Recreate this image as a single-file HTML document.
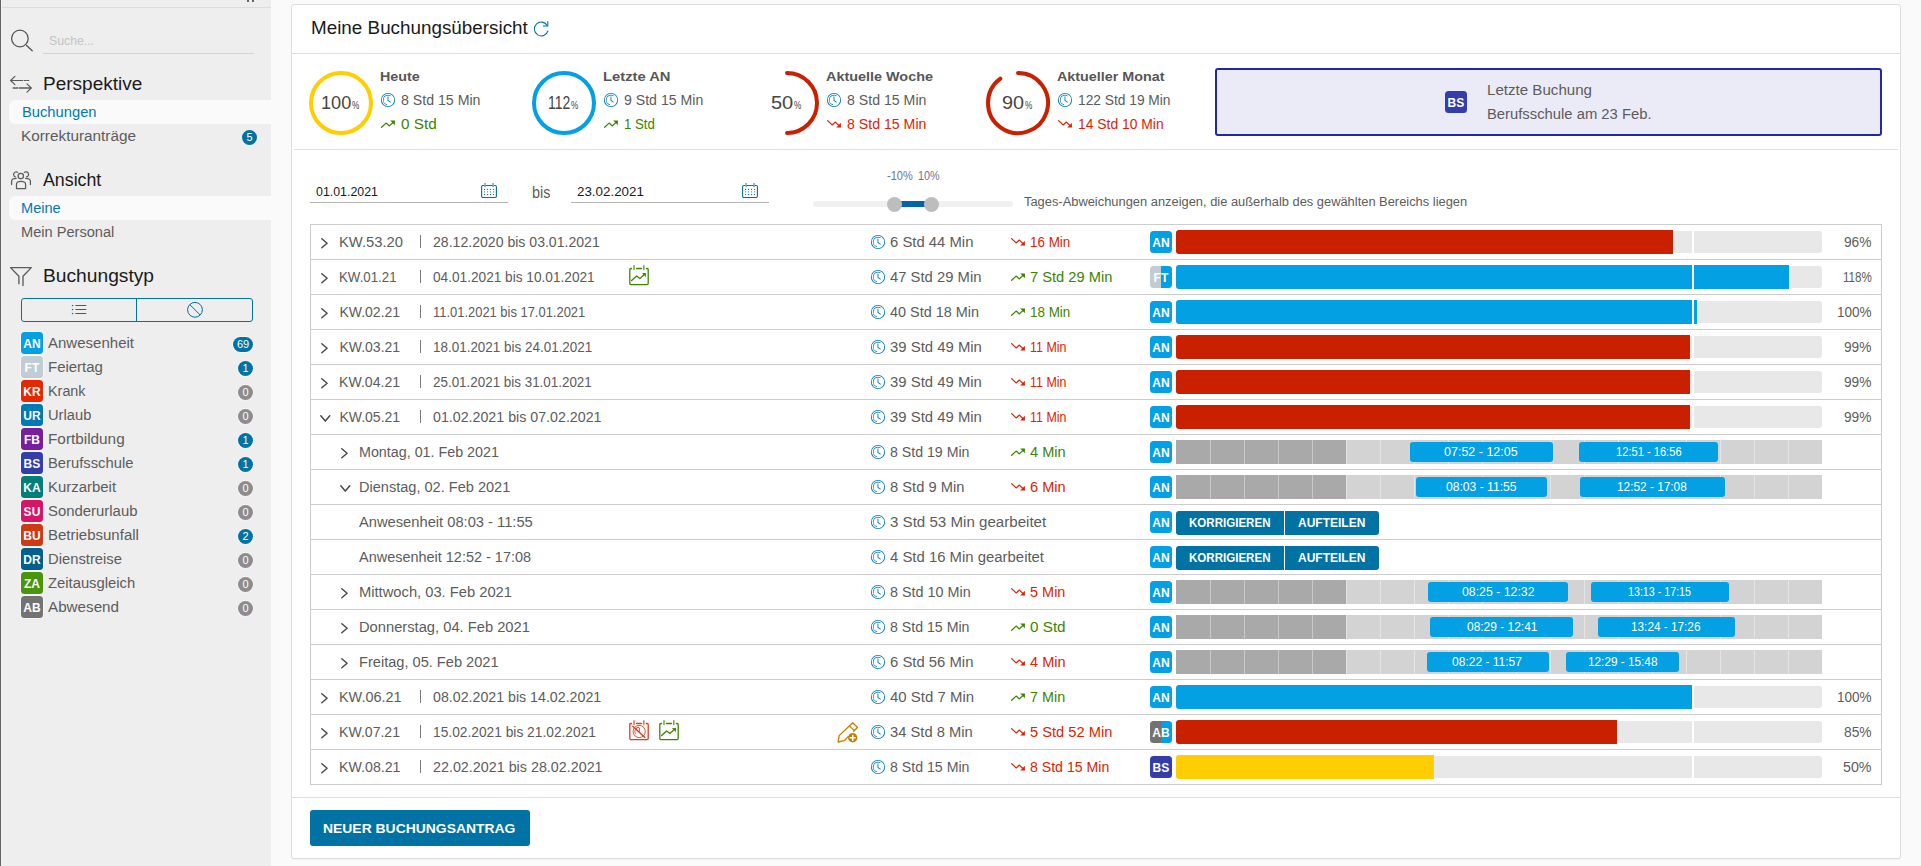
<!DOCTYPE html>
<html lang="de"><head><meta charset="utf-8"><title>Meine Buchungsübersicht</title>
<style>
html,body{margin:0;padding:0;}
body{width:1921px;height:866px;overflow:hidden;background:#fafafa;position:relative;
 font-family:"Liberation Sans",sans-serif;-webkit-font-smoothing:antialiased;}
.b{position:absolute;box-sizing:border-box;display:block;}
.t{position:absolute;white-space:pre;display:block;transform-origin:0 0;}
.badge{position:absolute;box-sizing:border-box;border-radius:3px;color:#fff;font-weight:bold;font-size:12px;
 line-height:24px;text-align:center;width:22px;height:22px;letter-spacing:0.1px;border-radius:3.5px;}
.cnt{position:absolute;box-sizing:border-box;border-radius:8px;color:#fff;font-size:11px;
 line-height:15px;height:15px;text-align:center;}
svg{overflow:visible}
</style></head><body>

<div class="b " style="left:0px;top:0px;width:271px;height:866px;background:#eeeeee;"></div>
<div class="b " style="left:0px;top:0px;width:1px;height:866px;background:#626262;"></div>
<div class="b " style="left:1px;top:0px;width:1px;height:866px;background:#f5f5f5;"></div>
<div class="b " style="left:2px;top:7px;width:269px;height:1px;background:#dcdcdc;"></div>
<div class="b " style="left:247px;top:0px;width:2px;height:2px;background:#666;"></div>
<div class="b " style="left:252px;top:0px;width:2px;height:2px;background:#666;"></div>
<svg class="b" style="left:8px;top:27px;" width="26" height="26" viewBox="0 0 26 26"><circle cx="11.9" cy="11.5" r="8.3" fill="none" stroke="#565656" stroke-width="1.3"/><path d="M18.6 18.4 L24.2 23.7" stroke="#565656" stroke-width="1.4" stroke-linecap="round" fill="none"/></svg>
<div class="b " style="left:43px;top:53px;width:211px;height:1px;background:#d4d4d4;"></div>
<span class="t " style="left:49.30px;top:31px;font-size:13px;line-height:19px;color:#c4c4c4;transform:scaleX(0.9432);">Suche...</span>
<svg class="b" style="left:8px;top:70px;" width="28" height="28" viewBox="0 0 28 28"><g fill="none" stroke="#5c5c5c" stroke-width="1.2" stroke-linecap="round" stroke-linejoin="round"><path d="M2.6 10.5 H14.7 M16.3 10.5 H17.9 M19 10.5 H20.8"/><path d="M6.9 6.4 L2.6 10.5 L6.9 14.6"/><path d="M11.3 18 H23.0 M5.2 18 H7 M8 18 H9.7" stroke-width="1.45"/><path d="M19 13.9 L23.2 18 L19 22.1"/></g></svg>
<span class="t " style="left:43.00px;top:72px;font-size:18px;line-height:24px;color:#1a1a1a;transform:scaleX(1.0558);">Perspektive</span>
<div class="b " style="left:9px;top:100px;width:262px;height:24px;background:#fafafa;border-radius:6px 0 0 6px;"></div>
<span class="t " style="left:22.00px;top:102px;font-size:14px;line-height:20px;color:#0079b8;transform:scaleX(1.0517);">Buchungen</span>
<span class="t " style="left:21.30px;top:126px;font-size:14px;line-height:20px;color:#5c5c5c;transform:scaleX(1.0945);">Korrekturanträge</span>
<div class="cnt" style="left:242px;top:130px;width:15px;background:#0072a3;">5</div>
<svg class="b" style="left:8px;top:166px;" width="28" height="28" viewBox="0 0 28 28"><g fill="none" stroke="#5c5c5c" stroke-width="1.25" stroke-linecap="round" stroke-linejoin="round"><circle cx="12.8" cy="10.1" r="2.7"/><path d="M8.5 22.6 V18.4 Q8.5 15.4 12.8 15.4 Q17.6 15.4 17.6 18.4 V22.6 Z"/><path d="M9.6 6.3 A2.6 2.6 0 1 0 7.2 10.9"/><path d="M8.2 12.3 Q3.6 12.3 3.6 15.3 V18.6"/><path d="M16.4 6.3 A2.6 2.6 0 1 1 18.6 10.9"/><path d="M17.6 12.3 Q22.4 12.3 22.4 15.3 V18.6"/></g></svg>
<span class="t " style="left:43.00px;top:168px;font-size:18px;line-height:24px;color:#1a1a1a;transform:scaleX(0.9875);">Ansicht</span>
<div class="b " style="left:9px;top:196px;width:262px;height:24px;background:#fafafa;border-radius:6px 0 0 6px;"></div>
<span class="t " style="left:21.30px;top:198px;font-size:14px;line-height:20px;color:#0079b8;transform:scaleX(1.0406);">Meine</span>
<span class="t " style="left:21.30px;top:222px;font-size:14px;line-height:20px;color:#5c5c5c;transform:scaleX(1.0429);">Mein Personal</span>
<svg class="b" style="left:8px;top:262px;" width="28" height="28" viewBox="0 0 28 28"><g fill="none" stroke="#5c5c5c" stroke-width="1.35" stroke-linecap="round" stroke-linejoin="round"><path d="M10.9 21.8 V14.3 L2.6 5.6 H23.3 L15 14.3 V23.6"/></g></svg>
<span class="t " style="left:43.00px;top:264px;font-size:18px;line-height:24px;color:#1a1a1a;transform:scaleX(1.0669);">Buchungstyp</span>
<div class="b " style="left:21px;top:298px;width:232px;height:24px;border:1px solid #0072a3;border-radius:3px;"></div>
<div class="b " style="left:136px;top:298px;width:1px;height:24px;background:#0072a3;"></div>
<svg class="b" style="left:70px;top:302px;" width="20" height="16" viewBox="0 0 20 16"><g stroke="#0072a3" stroke-width="1" fill="none"><path d="M5.4 3.5 H16.3 M5.4 7.5 H16.3 M5.4 11.5 H16.3"/></g><g fill="#0072a3"><rect x="1.9" y="2.9" width="1.3" height="1.3"/><rect x="1.9" y="6.9" width="1.3" height="1.3"/><rect x="1.9" y="10.9" width="1.3" height="1.3"/></g></svg>
<svg class="b" style="left:186px;top:301px;" width="18" height="18" viewBox="0 0 18 18"><g stroke="#0072a3" stroke-width="1" fill="none"><circle cx="9" cy="8.8" r="7.4"/><path d="M3.8 3.6 L14.2 14"/></g></svg>
<div class="badge" style="left:21px;top:332px;background:#03a0e3;box-shadow:0 0 0 1px rgba(255,250,246,0.65);">AN</div>
<span class="t " style="left:47.80px;top:333px;font-size:14px;line-height:20px;color:#5c5c5c;transform:scaleX(1.0730);">Anwesenheit</span>
<div class="cnt" style="left:233px;top:337px;width:20px;background:#0072a3;box-shadow:0 0 0 1px rgba(255,250,246,0.5);">69</div>
<div class="badge" style="left:21px;top:356px;background:#c1cdd4;box-shadow:0 0 0 1px rgba(255,250,246,0.65);">FT</div>
<span class="t " style="left:47.80px;top:357px;font-size:14px;line-height:20px;color:#5c5c5c;transform:scaleX(1.0685);">Feiertag</span>
<div class="cnt" style="left:238px;top:361px;width:15px;background:#0072a3;box-shadow:0 0 0 1px rgba(255,250,246,0.5);">1</div>
<div class="badge" style="left:21px;top:380px;background:#e62700;box-shadow:0 0 0 1px rgba(255,250,246,0.65);">KR</div>
<span class="t " style="left:47.80px;top:381px;font-size:14px;line-height:20px;color:#5c5c5c;transform:scaleX(1.0270);">Krank</span>
<div class="cnt" style="left:238px;top:385px;width:15px;background:#8c8c8c;box-shadow:0 0 0 1px rgba(255,250,246,0.5);">0</div>
<div class="badge" style="left:21px;top:404px;background:#0079b8;box-shadow:0 0 0 1px rgba(255,250,246,0.65);">UR</div>
<span class="t " style="left:47.80px;top:405px;font-size:14px;line-height:20px;color:#5c5c5c;transform:scaleX(1.0502);">Urlaub</span>
<div class="cnt" style="left:238px;top:409px;width:15px;background:#8c8c8c;box-shadow:0 0 0 1px rgba(255,250,246,0.5);">0</div>
<div class="badge" style="left:21px;top:428px;background:#781da0;box-shadow:0 0 0 1px rgba(255,250,246,0.65);">FB</div>
<span class="t " style="left:47.80px;top:429px;font-size:14px;line-height:20px;color:#5c5c5c;transform:scaleX(1.0946);">Fortbildung</span>
<div class="cnt" style="left:238px;top:433px;width:15px;background:#0072a3;box-shadow:0 0 0 1px rgba(255,250,246,0.5);">1</div>
<div class="badge" style="left:21px;top:452px;background:#343dac;box-shadow:0 0 0 1px rgba(255,250,246,0.65);">BS</div>
<span class="t " style="left:47.80px;top:453px;font-size:14px;line-height:20px;color:#5c5c5c;transform:scaleX(1.0554);">Berufsschule</span>
<div class="cnt" style="left:238px;top:457px;width:15px;background:#0072a3;box-shadow:0 0 0 1px rgba(255,250,246,0.5);">1</div>
<div class="badge" style="left:21px;top:476px;background:#007e7a;box-shadow:0 0 0 1px rgba(255,250,246,0.65);">KA</div>
<span class="t " style="left:47.80px;top:477px;font-size:14px;line-height:20px;color:#5c5c5c;transform:scaleX(1.0667);">Kurzarbeit</span>
<div class="cnt" style="left:238px;top:481px;width:15px;background:#8c8c8c;box-shadow:0 0 0 1px rgba(255,250,246,0.5);">0</div>
<div class="badge" style="left:21px;top:500px;background:#d91468;box-shadow:0 0 0 1px rgba(255,250,246,0.65);">SU</div>
<span class="t " style="left:47.80px;top:501px;font-size:14px;line-height:20px;color:#5c5c5c;transform:scaleX(1.0646);">Sonderurlaub</span>
<div class="cnt" style="left:238px;top:505px;width:15px;background:#8c8c8c;box-shadow:0 0 0 1px rgba(255,250,246,0.5);">0</div>
<div class="badge" style="left:21px;top:524px;background:#cf3a14;box-shadow:0 0 0 1px rgba(255,250,246,0.65);">BU</div>
<span class="t " style="left:47.80px;top:525px;font-size:14px;line-height:20px;color:#5c5c5c;transform:scaleX(1.0714);">Betriebsunfall</span>
<div class="cnt" style="left:238px;top:529px;width:15px;background:#0072a3;box-shadow:0 0 0 1px rgba(255,250,246,0.5);">2</div>
<div class="badge" style="left:21px;top:548px;background:#00608f;box-shadow:0 0 0 1px rgba(255,250,246,0.65);">DR</div>
<span class="t " style="left:47.80px;top:549px;font-size:14px;line-height:20px;color:#5c5c5c;transform:scaleX(1.0557);">Dienstreise</span>
<div class="cnt" style="left:238px;top:553px;width:15px;background:#8c8c8c;box-shadow:0 0 0 1px rgba(255,250,246,0.5);">0</div>
<div class="badge" style="left:21px;top:572px;background:#48960c;box-shadow:0 0 0 1px rgba(255,250,246,0.65);">ZA</div>
<span class="t " style="left:47.80px;top:573px;font-size:14px;line-height:20px;color:#5c5c5c;transform:scaleX(1.0563);">Zeitausgleich</span>
<div class="cnt" style="left:238px;top:577px;width:15px;background:#8c8c8c;box-shadow:0 0 0 1px rgba(255,250,246,0.5);">0</div>
<div class="badge" style="left:21px;top:596px;background:#737373;box-shadow:0 0 0 1px rgba(255,250,246,0.65);">AB</div>
<span class="t " style="left:47.80px;top:597px;font-size:14px;line-height:20px;color:#5c5c5c;transform:scaleX(1.0860);">Abwesend</span>
<div class="cnt" style="left:238px;top:601px;width:15px;background:#8c8c8c;box-shadow:0 0 0 1px rgba(255,250,246,0.5);">0</div>
<div class="b " style="left:291px;top:4px;width:1610px;height:855px;background:#fff;border:1px solid #dedede;border-radius:3px;box-shadow:0 1px 0 0 #f3f3f3;"></div>
<div class="b " style="left:292px;top:53px;width:1608px;height:1px;background:#dedede;"></div>
<div class="b " style="left:294px;top:149px;width:1604px;height:1px;background:#dedede;"></div>
<div class="b " style="left:292px;top:797px;width:1608px;height:1px;background:#dedede;"></div>
<span class="t " style="left:311.20px;top:16px;font-size:18px;line-height:24px;color:#1a1a1a;transform:scaleX(1.0469);">Meine Buchungsübersicht</span>
<svg class="b" style="left:532px;top:19px;" width="20" height="20" viewBox="0 0 20 20"><g fill="none" stroke="#0072a3" stroke-width="1.05" stroke-linecap="round" stroke-linejoin="round"><path d="M15.2 6.4 A6.9 6.9 0 1 0 15.9 12.0"/><path d="M15.8 2.5 V7.0 H11.3"/></g></svg>
<svg class="b" style="left:305px;top:67px;" width="72" height="72" viewBox="0 0 72 72"><circle cx="36" cy="36" r="30" fill="none" stroke="#fece02" stroke-width="4"/></svg>
<span class="t " style="left:321.25px;top:91px;font-size:18px;line-height:24px;color:#454545;transform:scaleX(1.0080);">100</span>
<span class="t " style="left:352.45px;top:98px;font-size:10px;line-height:15px;color:#454545;transform:scaleX(0.8202);">%</span>
<span class="t " style="left:380.30px;top:67px;font-size:13px;line-height:19px;color:#565656;font-weight:bold;transform:scaleX(1.0957);">Heute</span>
<svg class="b" style="left:379.80px;top:91.80px" width="16" height="16" viewBox="0 0 36 36" fill="#0079b8"><path d="M18,2A16,16,0,1,0,34,18,16,16,0,0,0,18,2Zm0,30A14,14,0,1,1,32,18,14,14,0,0,1,18,32Z"/><path d="M18.92,18.4V10.75a1,1,0,0,0-2,0v8.72l5.9,4a1,1,0,1,0,1.11-1.66Z"/><path d="M8,17.94A9.94,9.94,0,0,1,23.41,9.59l.85-1.36a11.55,11.55,0,1,0-8.53,21L16,27.7A10,10,0,0,1,8,17.94Z"/></svg>
<span class="t " style="left:400.50px;top:90px;font-size:14px;line-height:20px;color:#5c5c5c;transform:scaleX(1.0113);">8 Std 15 Min</span>
<svg class="b" style="left:381.1px;top:116.6px;" width="15" height="14" viewBox="0 0 15 14"><path d="M0.6 10.3 L5.1 6.1 L8.4 8.9 L13.0 4.5" fill="none" stroke="#3c8500" stroke-width="1.25" stroke-linecap="round" stroke-linejoin="round"/><path d="M9.2 3.4 H13.9 V8.2 Z" fill="#3c8500"/></svg>
<span class="t " style="left:400.50px;top:114px;font-size:14px;line-height:20px;color:#3c8500;transform:scaleX(1.0951);">0 Std</span>
<svg class="b" style="left:528px;top:67px;" width="72" height="72" viewBox="0 0 72 72"><circle cx="36" cy="36" r="30" fill="none" stroke="#03a0e3" stroke-width="4"/></svg>
<span class="t " style="left:548.25px;top:91px;font-size:18px;line-height:24px;color:#454545;transform:scaleX(0.7767);">112</span>
<span class="t " style="left:571.45px;top:98px;font-size:10px;line-height:15px;color:#454545;transform:scaleX(0.8202);">%</span>
<span class="t " style="left:603.30px;top:67px;font-size:13px;line-height:19px;color:#565656;font-weight:bold;transform:scaleX(1.1349);">Letzte AN</span>
<svg class="b" style="left:602.80px;top:91.80px" width="16" height="16" viewBox="0 0 36 36" fill="#0079b8"><path d="M18,2A16,16,0,1,0,34,18,16,16,0,0,0,18,2Zm0,30A14,14,0,1,1,32,18,14,14,0,0,1,18,32Z"/><path d="M18.92,18.4V10.75a1,1,0,0,0-2,0v8.72l5.9,4a1,1,0,1,0,1.11-1.66Z"/><path d="M8,17.94A9.94,9.94,0,0,1,23.41,9.59l.85-1.36a11.55,11.55,0,1,0-8.53,21L16,27.7A10,10,0,0,1,8,17.94Z"/></svg>
<span class="t " style="left:623.50px;top:90px;font-size:14px;line-height:20px;color:#5c5c5c;transform:scaleX(1.0088);">9 Std 15 Min</span>
<svg class="b" style="left:604.1px;top:116.6px;" width="15" height="14" viewBox="0 0 15 14"><path d="M0.6 10.3 L5.1 6.1 L8.4 8.9 L13.0 4.5" fill="none" stroke="#3c8500" stroke-width="1.25" stroke-linecap="round" stroke-linejoin="round"/><path d="M9.2 3.4 H13.9 V8.2 Z" fill="#3c8500"/></svg>
<span class="t " style="left:623.50px;top:114px;font-size:14px;line-height:20px;color:#3c8500;transform:scaleX(0.9452);">1 Std</span>
<svg class="b" style="left:751px;top:67px;" width="72" height="72" viewBox="0 0 72 72"><path d="M36 6 A30 30 0 0 1 36.00 66.00" fill="none" stroke="#c92100" stroke-width="4" stroke-linecap="round"/></svg>
<span class="t " style="left:771.30px;top:91px;font-size:18px;line-height:24px;color:#454545;transform:scaleX(1.1111);">50</span>
<span class="t " style="left:794.40px;top:98px;font-size:10px;line-height:15px;color:#454545;transform:scaleX(0.8202);">%</span>
<span class="t " style="left:826.30px;top:67px;font-size:13px;line-height:19px;color:#565656;font-weight:bold;transform:scaleX(1.1078);">Aktuelle Woche</span>
<svg class="b" style="left:825.80px;top:91.80px" width="16" height="16" viewBox="0 0 36 36" fill="#0079b8"><path d="M18,2A16,16,0,1,0,34,18,16,16,0,0,0,18,2Zm0,30A14,14,0,1,1,32,18,14,14,0,0,1,18,32Z"/><path d="M18.92,18.4V10.75a1,1,0,0,0-2,0v8.72l5.9,4a1,1,0,1,0,1.11-1.66Z"/><path d="M8,17.94A9.94,9.94,0,0,1,23.41,9.59l.85-1.36a11.55,11.55,0,1,0-8.53,21L16,27.7A10,10,0,0,1,8,17.94Z"/></svg>
<span class="t " style="left:846.50px;top:90px;font-size:14px;line-height:20px;color:#5c5c5c;transform:scaleX(1.0100);">8 Std 15 Min</span>
<svg class="b" style="left:827.1px;top:116.6px;" width="15" height="14" viewBox="0 0 15 14"><path d="M0.6 3.6 L5.1 7.9 L8.4 5.1 L13.0 9.5" fill="none" stroke="#e12200" stroke-width="1.25" stroke-linecap="round" stroke-linejoin="round"/><path d="M9.2 10.6 H13.9 V5.8 Z" fill="#e12200"/></svg>
<span class="t " style="left:846.50px;top:114px;font-size:14px;line-height:20px;color:#e12200;transform:scaleX(1.0100);">8 Std 15 Min</span>
<svg class="b" style="left:982px;top:67px;" width="72" height="72" viewBox="0 0 72 72"><path d="M36 6 A30 30 0 1 1 18.37 11.73" fill="none" stroke="#c92100" stroke-width="4" stroke-linecap="round"/></svg>
<span class="t " style="left:1002.40px;top:91px;font-size:18px;line-height:24px;color:#454545;transform:scaleX(1.1011);">90</span>
<span class="t " style="left:1025.30px;top:98px;font-size:10px;line-height:15px;color:#454545;transform:scaleX(0.8202);">%</span>
<span class="t " style="left:1057.30px;top:67px;font-size:13px;line-height:19px;color:#565656;font-weight:bold;transform:scaleX(1.1026);">Aktueller Monat</span>
<svg class="b" style="left:1056.80px;top:91.80px" width="16" height="16" viewBox="0 0 36 36" fill="#0079b8"><path d="M18,2A16,16,0,1,0,34,18,16,16,0,0,0,18,2Zm0,30A14,14,0,1,1,32,18,14,14,0,0,1,18,32Z"/><path d="M18.92,18.4V10.75a1,1,0,0,0-2,0v8.72l5.9,4a1,1,0,1,0,1.11-1.66Z"/><path d="M8,17.94A9.94,9.94,0,0,1,23.41,9.59l.85-1.36a11.55,11.55,0,1,0-8.53,21L16,27.7A10,10,0,0,1,8,17.94Z"/></svg>
<span class="t " style="left:1077.50px;top:90px;font-size:14px;line-height:20px;color:#5c5c5c;transform:scaleX(0.9825);">122 Std 19 Min</span>
<svg class="b" style="left:1058.1px;top:116.6px;" width="15" height="14" viewBox="0 0 15 14"><path d="M0.6 3.6 L5.1 7.9 L8.4 5.1 L13.0 9.5" fill="none" stroke="#e12200" stroke-width="1.25" stroke-linecap="round" stroke-linejoin="round"/><path d="M9.2 10.6 H13.9 V5.8 Z" fill="#e12200"/></svg>
<span class="t " style="left:1077.50px;top:114px;font-size:14px;line-height:20px;color:#e12200;transform:scaleX(0.9910);">14 Std 10 Min</span>
<div class="b " style="left:1215px;top:68px;width:667px;height:68px;background:#ebebf7;border:2px solid #2229a0;border-radius:3px;"></div>
<div class="badge" style="left:1445px;top:91px;background:#343dac;">BS</div>
<span class="t " style="left:1487.00px;top:80px;font-size:14px;line-height:20px;color:#5c5c5c;transform:scaleX(1.0791);">Letzte Buchung</span>
<span class="t " style="left:1487.00px;top:104px;font-size:14px;line-height:20px;color:#5c5c5c;transform:scaleX(1.0571);">Berufsschule am 23 Feb.</span>
<div class="b " style="left:310px;top:202px;width:198px;height:1px;background:#b3b3b3;"></div>
<span class="t " style="left:316.20px;top:182px;font-size:13px;line-height:19px;color:#1a1a1a;transform:scaleX(0.9529);">01.01.2021</span>
<svg class="b" style="left:480px;top:181.5px;" width="18" height="18" viewBox="0 0 18 18"><rect x="1.6" y="3.5" width="14.8" height="12" rx="1.2" fill="none" stroke="#0072a3" stroke-width="1.1"/><rect x="4.3" y="1" width="1.6" height="4.2" fill="#6fb0cf"/><rect x="12.3" y="1" width="1.6" height="4.2" fill="#6fb0cf"/><rect x="4.0" y="6.9" width="1.1" height="1.1" fill="#0072a3"/><rect x="4.0" y="9.0" width="1.1" height="1.6" fill="#7fb6d1"/><rect x="4.0" y="12.0" width="1.1" height="1.1" fill="#0072a3"/><rect x="7.0" y="6.9" width="1.1" height="1.1" fill="#0072a3"/><rect x="7.0" y="9.0" width="1.1" height="1.6" fill="#7fb6d1"/><rect x="7.0" y="12.0" width="1.1" height="1.1" fill="#0072a3"/><rect x="10.0" y="6.9" width="1.1" height="1.1" fill="#0072a3"/><rect x="10.0" y="9.0" width="1.1" height="1.6" fill="#7fb6d1"/><rect x="10.0" y="12.0" width="1.1" height="1.1" fill="#0072a3"/><rect x="13.0" y="6.9" width="1.1" height="1.1" fill="#0072a3"/><rect x="13.0" y="9.0" width="1.1" height="1.6" fill="#7fb6d1"/><rect x="13.0" y="12.0" width="1.1" height="1.1" fill="#0072a3"/></svg>
<span class="t " style="left:532.40px;top:182px;font-size:16px;line-height:21px;color:#5c5c5c;transform:scaleX(0.8984);">bis</span>
<div class="b " style="left:571px;top:202px;width:198px;height:1px;background:#b3b3b3;"></div>
<span class="t " style="left:577.30px;top:182px;font-size:13px;line-height:19px;color:#1a1a1a;transform:scaleX(1.0282);">23.02.2021</span>
<svg class="b" style="left:741px;top:181.5px;" width="18" height="18" viewBox="0 0 18 18"><rect x="1.6" y="3.5" width="14.8" height="12" rx="1.2" fill="none" stroke="#0072a3" stroke-width="1.1"/><rect x="4.3" y="1" width="1.6" height="4.2" fill="#6fb0cf"/><rect x="12.3" y="1" width="1.6" height="4.2" fill="#6fb0cf"/><rect x="4.0" y="6.9" width="1.1" height="1.1" fill="#0072a3"/><rect x="4.0" y="9.0" width="1.1" height="1.6" fill="#7fb6d1"/><rect x="4.0" y="12.0" width="1.1" height="1.1" fill="#0072a3"/><rect x="7.0" y="6.9" width="1.1" height="1.1" fill="#0072a3"/><rect x="7.0" y="9.0" width="1.1" height="1.6" fill="#7fb6d1"/><rect x="7.0" y="12.0" width="1.1" height="1.1" fill="#0072a3"/><rect x="10.0" y="6.9" width="1.1" height="1.1" fill="#0072a3"/><rect x="10.0" y="9.0" width="1.1" height="1.6" fill="#7fb6d1"/><rect x="10.0" y="12.0" width="1.1" height="1.1" fill="#0072a3"/><rect x="13.0" y="6.9" width="1.1" height="1.1" fill="#0072a3"/><rect x="13.0" y="9.0" width="1.1" height="1.6" fill="#7fb6d1"/><rect x="13.0" y="12.0" width="1.1" height="1.1" fill="#0072a3"/></svg>
<div class="b " style="left:813px;top:201px;width:200px;height:6px;background:#f0f0f0;border-radius:3px;"></div>
<div class="b " style="left:894px;top:201px;width:38px;height:6px;background:#0065ab;"></div>
<div class="b " style="left:887px;top:197px;width:15px;height:15px;background:#bdbdbd;border-radius:50%;"></div>
<div class="b " style="left:924px;top:197px;width:15px;height:15px;background:#bdbdbd;border-radius:50%;"></div>
<span class="t " style="left:886.50px;top:167px;font-size:12px;line-height:18px;color:#6a7590;transform:scaleX(0.9172);">-10%</span>
<span class="t " style="left:917.50px;top:167px;font-size:12px;line-height:18px;color:#6a7590;transform:scaleX(0.8958);">10%</span>
<span class="t " style="left:1023.80px;top:193px;font-size:12px;line-height:18px;color:#5c5c5c;transform:scaleX(1.0732);">Tages-Abweichungen anzeigen, die außerhalb des gewählten Bereichs liegen</span>
<div class="b " style="left:310px;top:224px;width:1572px;height:561px;border:1px solid #cccccc;"></div>
<div class="b " style="left:311px;top:259px;width:1570px;height:1px;background:#cccccc;"></div>
<div class="b " style="left:311px;top:294px;width:1570px;height:1px;background:#cccccc;"></div>
<div class="b " style="left:311px;top:329px;width:1570px;height:1px;background:#cccccc;"></div>
<div class="b " style="left:311px;top:364px;width:1570px;height:1px;background:#cccccc;"></div>
<div class="b " style="left:311px;top:399px;width:1570px;height:1px;background:#cccccc;"></div>
<div class="b " style="left:311px;top:434px;width:1570px;height:1px;background:#cccccc;"></div>
<div class="b " style="left:311px;top:469px;width:1570px;height:1px;background:#cccccc;"></div>
<div class="b " style="left:311px;top:504px;width:1570px;height:1px;background:#cccccc;"></div>
<div class="b " style="left:311px;top:539px;width:1570px;height:1px;background:#cccccc;"></div>
<div class="b " style="left:311px;top:574px;width:1570px;height:1px;background:#cccccc;"></div>
<div class="b " style="left:311px;top:609px;width:1570px;height:1px;background:#cccccc;"></div>
<div class="b " style="left:311px;top:644px;width:1570px;height:1px;background:#cccccc;"></div>
<div class="b " style="left:311px;top:679px;width:1570px;height:1px;background:#cccccc;"></div>
<div class="b " style="left:311px;top:714px;width:1570px;height:1px;background:#cccccc;"></div>
<div class="b " style="left:311px;top:749px;width:1570px;height:1px;background:#cccccc;"></div>
<svg class="b" style="left:321.3px;top:237.7px;" width="8" height="11" viewBox="0 0 8 11"><path d="M0.8 0.8 L6.1 5.3 L0.8 9.8" fill="none" stroke="#4a4a4a" stroke-width="1.5" stroke-linecap="round" stroke-linejoin="round"/></svg>
<span class="t " style="left:339.40px;top:232px;font-size:14px;line-height:20px;color:#5c5c5c;transform:scaleX(1.0545);">KW.53.20</span>
<div class="b " style="left:420px;top:235px;width:1px;height:13px;background:#7a7a7a;"></div>
<span class="t " style="left:433.20px;top:232px;font-size:14px;line-height:20px;color:#5c5c5c;transform:scaleX(1.0058);">28.12.2020 bis 03.01.2021</span>
<svg class="b" style="left:870.05px;top:234.00px" width="16" height="16" viewBox="0 0 36 36" fill="#0079b8"><path d="M18,2A16,16,0,1,0,34,18,16,16,0,0,0,18,2Zm0,30A14,14,0,1,1,32,18,14,14,0,0,1,18,32Z"/><path d="M18.92,18.4V10.75a1,1,0,0,0-2,0v8.72l5.9,4a1,1,0,1,0,1.11-1.66Z"/><path d="M8,17.94A9.94,9.94,0,0,1,23.41,9.59l.85-1.36a11.55,11.55,0,1,0-8.53,21L16,27.7A10,10,0,0,1,8,17.94Z"/></svg>
<span class="t " style="left:890.00px;top:232px;font-size:14px;line-height:20px;color:#5c5c5c;transform:scaleX(1.0609);">6 Std 44 Min</span>
<svg class="b" style="left:1010.6px;top:235px;" width="15" height="14" viewBox="0 0 15 14"><path d="M0.6 3.6 L5.1 7.9 L8.4 5.1 L13.0 9.5" fill="none" stroke="#e12200" stroke-width="1.25" stroke-linecap="round" stroke-linejoin="round"/><path d="M9.2 10.6 H13.9 V5.8 Z" fill="#e12200"/></svg>
<span class="t " style="left:1029.90px;top:232px;font-size:14px;line-height:20px;color:#e12200;transform:scaleX(0.9595);">16 Min</span>
<div class="badge" style="left:1150px;top:231px;background:#03a0e3;">AN</div>
<div class="b " style="left:1176px;top:231px;width:646px;height:22px;background:#e8e8e8;border-radius:3px;"></div>
<div class="b " style="left:1176px;top:230px;width:497.1px;height:24px;background:#c92100;border-radius:3px 0 0 3px;"></div>
<div class="b " style="left:1692px;top:229px;width:2px;height:26px;background:#ffffff;"></div>
<span class="t " style="left:1844.00px;top:232px;font-size:14px;line-height:20px;color:#5c5c5c;transform:scaleX(0.9786);">96%</span>
<svg class="b" style="left:321.3px;top:272.7px;" width="8" height="11" viewBox="0 0 8 11"><path d="M0.8 0.8 L6.1 5.3 L0.8 9.8" fill="none" stroke="#4a4a4a" stroke-width="1.5" stroke-linecap="round" stroke-linejoin="round"/></svg>
<span class="t " style="left:339.40px;top:267px;font-size:14px;line-height:20px;color:#5c5c5c;transform:scaleX(0.9474);">KW.01.21</span>
<div class="b " style="left:420px;top:270px;width:1px;height:13px;background:#7a7a7a;"></div>
<span class="t " style="left:433.20px;top:267px;font-size:14px;line-height:20px;color:#5c5c5c;transform:scaleX(0.9751);">04.01.2021 bis 10.01.2021</span>
<svg class="b" style="left:628.7px;top:264.6px;" width="21" height="21" viewBox="0 0 21 21"><g fill="none" stroke="#3c8500" stroke-width="1.3" stroke-linecap="round" stroke-linejoin="round"><path d="M2.6 3.5 H1.9 Q0.8 3.5 0.8 4.6 V18.5 Q0.8 19.6 1.9 19.6 H18.1 Q19.2 19.6 19.2 18.5 V4.6 Q19.2 3.5 18.1 3.5 H17.4"/><path d="M7.5 3.5 H12.5"/></g><g stroke="#3c8500" stroke-width="1.5" stroke-linecap="round" opacity="0.75"><path d="M5.0 0.7 V4.6 M14.8 0.7 V4.6"/></g><path d="M2.6 15.6 L7.6 11.0 L11.0 13.6 L15.6 9.0" fill="none" stroke="#3c8500" stroke-width="1.3" stroke-linecap="round" stroke-linejoin="round"/><path d="M12.8 8.0 H17.0 V12.2 Z" fill="#3c8500" opacity="0.9"/></svg>
<svg class="b" style="left:870.05px;top:269.00px" width="16" height="16" viewBox="0 0 36 36" fill="#0079b8"><path d="M18,2A16,16,0,1,0,34,18,16,16,0,0,0,18,2Zm0,30A14,14,0,1,1,32,18,14,14,0,0,1,18,32Z"/><path d="M18.92,18.4V10.75a1,1,0,0,0-2,0v8.72l5.9,4a1,1,0,1,0,1.11-1.66Z"/><path d="M8,17.94A9.94,9.94,0,0,1,23.41,9.59l.85-1.36a11.55,11.55,0,1,0-8.53,21L16,27.7A10,10,0,0,1,8,17.94Z"/></svg>
<span class="t " style="left:890.00px;top:267px;font-size:14px;line-height:20px;color:#5c5c5c;transform:scaleX(1.0581);">47 Std 29 Min</span>
<svg class="b" style="left:1010.6px;top:270px;" width="15" height="14" viewBox="0 0 15 14"><path d="M0.6 10.3 L5.1 6.1 L8.4 8.9 L13.0 4.5" fill="none" stroke="#3c8500" stroke-width="1.25" stroke-linecap="round" stroke-linejoin="round"/><path d="M9.2 3.4 H13.9 V8.2 Z" fill="#3c8500"/></svg>
<span class="t " style="left:1029.90px;top:267px;font-size:14px;line-height:20px;color:#3c8500;transform:scaleX(1.0482);">7 Std 29 Min</span>
<div class="badge" style="left:1150px;top:266px;background:linear-gradient(90deg,#c1cdd4 0,#c1cdd4 11px,#03a0e3 11px,#03a0e3 100%);">FT</div>
<div class="b " style="left:1176px;top:266px;width:646px;height:22px;background:#e8e8e8;border-radius:3px;"></div>
<div class="b " style="left:1176px;top:265px;width:612.9px;height:24px;background:#03a0e3;border-radius:3px 0 0 3px;"></div>
<div class="b " style="left:1692px;top:264px;width:2px;height:26px;background:#ffffff;"></div>
<span class="t " style="left:1842.60px;top:267px;font-size:14px;line-height:20px;color:#5c5c5c;transform:scaleX(0.8278);">118%</span>
<svg class="b" style="left:321.3px;top:307.7px;" width="8" height="11" viewBox="0 0 8 11"><path d="M0.8 0.8 L6.1 5.3 L0.8 9.8" fill="none" stroke="#4a4a4a" stroke-width="1.5" stroke-linecap="round" stroke-linejoin="round"/></svg>
<span class="t " style="left:339.40px;top:302px;font-size:14px;line-height:20px;color:#5c5c5c;">KW.02.21</span>
<div class="b " style="left:420px;top:305px;width:1px;height:13px;background:#7a7a7a;"></div>
<span class="t " style="left:433.20px;top:302px;font-size:14px;line-height:20px;color:#5c5c5c;transform:scaleX(0.9237);">11.01.2021 bis 17.01.2021</span>
<svg class="b" style="left:870.05px;top:304.00px" width="16" height="16" viewBox="0 0 36 36" fill="#0079b8"><path d="M18,2A16,16,0,1,0,34,18,16,16,0,0,0,18,2Zm0,30A14,14,0,1,1,32,18,14,14,0,0,1,18,32Z"/><path d="M18.92,18.4V10.75a1,1,0,0,0-2,0v8.72l5.9,4a1,1,0,1,0,1.11-1.66Z"/><path d="M8,17.94A9.94,9.94,0,0,1,23.41,9.59l.85-1.36a11.55,11.55,0,1,0-8.53,21L16,27.7A10,10,0,0,1,8,17.94Z"/></svg>
<span class="t " style="left:890.00px;top:302px;font-size:14px;line-height:20px;color:#5c5c5c;transform:scaleX(1.0303);">40 Std 18 Min</span>
<svg class="b" style="left:1010.6px;top:305px;" width="15" height="14" viewBox="0 0 15 14"><path d="M0.6 10.3 L5.1 6.1 L8.4 8.9 L13.0 4.5" fill="none" stroke="#3c8500" stroke-width="1.25" stroke-linecap="round" stroke-linejoin="round"/><path d="M9.2 3.4 H13.9 V8.2 Z" fill="#3c8500"/></svg>
<span class="t " style="left:1029.90px;top:302px;font-size:14px;line-height:20px;color:#3c8500;transform:scaleX(0.9595);">18 Min</span>
<div class="badge" style="left:1150px;top:301px;background:#03a0e3;">AN</div>
<div class="b " style="left:1176px;top:301px;width:646px;height:22px;background:#e8e8e8;border-radius:3px;"></div>
<div class="b " style="left:1176px;top:300px;width:520.7px;height:24px;background:#03a0e3;border-radius:3px 0 0 3px;"></div>
<div class="b " style="left:1692px;top:299px;width:2px;height:26px;background:#ffffff;"></div>
<span class="t " style="left:1836.70px;top:302px;font-size:14px;line-height:20px;color:#5c5c5c;transform:scaleX(0.9682);">100%</span>
<svg class="b" style="left:321.3px;top:342.7px;" width="8" height="11" viewBox="0 0 8 11"><path d="M0.8 0.8 L6.1 5.3 L0.8 9.8" fill="none" stroke="#4a4a4a" stroke-width="1.5" stroke-linecap="round" stroke-linejoin="round"/></svg>
<span class="t " style="left:339.40px;top:337px;font-size:14px;line-height:20px;color:#5c5c5c;">KW.03.21</span>
<div class="b " style="left:420px;top:340px;width:1px;height:13px;background:#7a7a7a;"></div>
<span class="t " style="left:433.20px;top:337px;font-size:14px;line-height:20px;color:#5c5c5c;transform:scaleX(0.9606);">18.01.2021 bis 24.01.2021</span>
<svg class="b" style="left:870.05px;top:339.00px" width="16" height="16" viewBox="0 0 36 36" fill="#0079b8"><path d="M18,2A16,16,0,1,0,34,18,16,16,0,0,0,18,2Zm0,30A14,14,0,1,1,32,18,14,14,0,0,1,18,32Z"/><path d="M18.92,18.4V10.75a1,1,0,0,0-2,0v8.72l5.9,4a1,1,0,1,0,1.11-1.66Z"/><path d="M8,17.94A9.94,9.94,0,0,1,23.41,9.59l.85-1.36a11.55,11.55,0,1,0-8.53,21L16,27.7A10,10,0,0,1,8,17.94Z"/></svg>
<span class="t " style="left:890.00px;top:337px;font-size:14px;line-height:20px;color:#5c5c5c;transform:scaleX(1.0639);">39 Std 49 Min</span>
<svg class="b" style="left:1010.6px;top:340px;" width="15" height="14" viewBox="0 0 15 14"><path d="M0.6 3.6 L5.1 7.9 L8.4 5.1 L13.0 9.5" fill="none" stroke="#e12200" stroke-width="1.25" stroke-linecap="round" stroke-linejoin="round"/><path d="M9.2 10.6 H13.9 V5.8 Z" fill="#e12200"/></svg>
<span class="t " style="left:1029.90px;top:337px;font-size:14px;line-height:20px;color:#e12200;transform:scaleX(0.8889);">11 Min</span>
<div class="badge" style="left:1150px;top:336px;background:#03a0e3;">AN</div>
<div class="b " style="left:1176px;top:336px;width:646px;height:22px;background:#e8e8e8;border-radius:3px;"></div>
<div class="b " style="left:1176px;top:335px;width:514.4px;height:24px;background:#c92100;border-radius:3px 0 0 3px;"></div>
<div class="b " style="left:1692px;top:334px;width:2px;height:26px;background:#ffffff;"></div>
<span class="t " style="left:1844.00px;top:337px;font-size:14px;line-height:20px;color:#5c5c5c;transform:scaleX(0.9786);">99%</span>
<svg class="b" style="left:321.3px;top:377.7px;" width="8" height="11" viewBox="0 0 8 11"><path d="M0.8 0.8 L6.1 5.3 L0.8 9.8" fill="none" stroke="#4a4a4a" stroke-width="1.5" stroke-linecap="round" stroke-linejoin="round"/></svg>
<span class="t " style="left:339.40px;top:372px;font-size:14px;line-height:20px;color:#5c5c5c;transform:scaleX(1.0068);">KW.04.21</span>
<div class="b " style="left:420px;top:375px;width:1px;height:13px;background:#7a7a7a;"></div>
<span class="t " style="left:433.20px;top:372px;font-size:14px;line-height:20px;color:#5c5c5c;transform:scaleX(0.9576);">25.01.2021 bis 31.01.2021</span>
<svg class="b" style="left:870.05px;top:374.00px" width="16" height="16" viewBox="0 0 36 36" fill="#0079b8"><path d="M18,2A16,16,0,1,0,34,18,16,16,0,0,0,18,2Zm0,30A14,14,0,1,1,32,18,14,14,0,0,1,18,32Z"/><path d="M18.92,18.4V10.75a1,1,0,0,0-2,0v8.72l5.9,4a1,1,0,1,0,1.11-1.66Z"/><path d="M8,17.94A9.94,9.94,0,0,1,23.41,9.59l.85-1.36a11.55,11.55,0,1,0-8.53,21L16,27.7A10,10,0,0,1,8,17.94Z"/></svg>
<span class="t " style="left:890.00px;top:372px;font-size:14px;line-height:20px;color:#5c5c5c;transform:scaleX(1.0639);">39 Std 49 Min</span>
<svg class="b" style="left:1010.6px;top:375px;" width="15" height="14" viewBox="0 0 15 14"><path d="M0.6 3.6 L5.1 7.9 L8.4 5.1 L13.0 9.5" fill="none" stroke="#e12200" stroke-width="1.25" stroke-linecap="round" stroke-linejoin="round"/><path d="M9.2 10.6 H13.9 V5.8 Z" fill="#e12200"/></svg>
<span class="t " style="left:1029.90px;top:372px;font-size:14px;line-height:20px;color:#e12200;transform:scaleX(0.8889);">11 Min</span>
<div class="badge" style="left:1150px;top:371px;background:#03a0e3;">AN</div>
<div class="b " style="left:1176px;top:371px;width:646px;height:22px;background:#e8e8e8;border-radius:3px;"></div>
<div class="b " style="left:1176px;top:370px;width:514.4px;height:24px;background:#c92100;border-radius:3px 0 0 3px;"></div>
<div class="b " style="left:1692px;top:369px;width:2px;height:26px;background:#ffffff;"></div>
<span class="t " style="left:1844.00px;top:372px;font-size:14px;line-height:20px;color:#5c5c5c;transform:scaleX(0.9786);">99%</span>
<svg class="b" style="left:319.7px;top:414.59999999999997px;" width="11" height="8" viewBox="0 0 11 8"><path d="M0.8 0.8 L5.3 6.1 L9.8 0.8" fill="none" stroke="#4a4a4a" stroke-width="1.5" stroke-linecap="round" stroke-linejoin="round"/></svg>
<span class="t " style="left:339.40px;top:407px;font-size:14px;line-height:20px;color:#5c5c5c;">KW.05.21</span>
<div class="b " style="left:420px;top:410px;width:1px;height:13px;background:#7a7a7a;"></div>
<span class="t " style="left:433.20px;top:407px;font-size:14px;line-height:20px;color:#5c5c5c;transform:scaleX(1.0161);">01.02.2021 bis 07.02.2021</span>
<svg class="b" style="left:870.05px;top:409.00px" width="16" height="16" viewBox="0 0 36 36" fill="#0079b8"><path d="M18,2A16,16,0,1,0,34,18,16,16,0,0,0,18,2Zm0,30A14,14,0,1,1,32,18,14,14,0,0,1,18,32Z"/><path d="M18.92,18.4V10.75a1,1,0,0,0-2,0v8.72l5.9,4a1,1,0,1,0,1.11-1.66Z"/><path d="M8,17.94A9.94,9.94,0,0,1,23.41,9.59l.85-1.36a11.55,11.55,0,1,0-8.53,21L16,27.7A10,10,0,0,1,8,17.94Z"/></svg>
<span class="t " style="left:890.00px;top:407px;font-size:14px;line-height:20px;color:#5c5c5c;transform:scaleX(1.0639);">39 Std 49 Min</span>
<svg class="b" style="left:1010.6px;top:410px;" width="15" height="14" viewBox="0 0 15 14"><path d="M0.6 3.6 L5.1 7.9 L8.4 5.1 L13.0 9.5" fill="none" stroke="#e12200" stroke-width="1.25" stroke-linecap="round" stroke-linejoin="round"/><path d="M9.2 10.6 H13.9 V5.8 Z" fill="#e12200"/></svg>
<span class="t " style="left:1029.90px;top:407px;font-size:14px;line-height:20px;color:#e12200;transform:scaleX(0.8889);">11 Min</span>
<div class="badge" style="left:1150px;top:406px;background:#03a0e3;">AN</div>
<div class="b " style="left:1176px;top:406px;width:646px;height:22px;background:#e8e8e8;border-radius:3px;"></div>
<div class="b " style="left:1176px;top:405px;width:514.4px;height:24px;background:#c92100;border-radius:3px 0 0 3px;"></div>
<div class="b " style="left:1692px;top:404px;width:2px;height:26px;background:#ffffff;"></div>
<span class="t " style="left:1844.00px;top:407px;font-size:14px;line-height:20px;color:#5c5c5c;transform:scaleX(0.9786);">99%</span>
<svg class="b" style="left:341.2px;top:447.7px;" width="8" height="11" viewBox="0 0 8 11"><path d="M0.8 0.8 L6.1 5.3 L0.8 9.8" fill="none" stroke="#4a4a4a" stroke-width="1.5" stroke-linecap="round" stroke-linejoin="round"/></svg>
<span class="t " style="left:359.30px;top:442px;font-size:14px;line-height:20px;color:#5c5c5c;transform:scaleX(1.0212);">Montag, 01. Feb 2021</span>
<svg class="b" style="left:870.05px;top:444.00px" width="16" height="16" viewBox="0 0 36 36" fill="#0079b8"><path d="M18,2A16,16,0,1,0,34,18,16,16,0,0,0,18,2Zm0,30A14,14,0,1,1,32,18,14,14,0,0,1,18,32Z"/><path d="M18.92,18.4V10.75a1,1,0,0,0-2,0v8.72l5.9,4a1,1,0,1,0,1.11-1.66Z"/><path d="M8,17.94A9.94,9.94,0,0,1,23.41,9.59l.85-1.36a11.55,11.55,0,1,0-8.53,21L16,27.7A10,10,0,0,1,8,17.94Z"/></svg>
<span class="t " style="left:890.00px;top:442px;font-size:14px;line-height:20px;color:#5c5c5c;transform:scaleX(1.0113);">8 Std 19 Min</span>
<svg class="b" style="left:1010.6px;top:445px;" width="15" height="14" viewBox="0 0 15 14"><path d="M0.6 10.3 L5.1 6.1 L8.4 8.9 L13.0 4.5" fill="none" stroke="#3c8500" stroke-width="1.25" stroke-linecap="round" stroke-linejoin="round"/><path d="M9.2 3.4 H13.9 V8.2 Z" fill="#3c8500"/></svg>
<span class="t " style="left:1029.90px;top:442px;font-size:14px;line-height:20px;color:#3c8500;transform:scaleX(1.0400);">4 Min</span>
<div class="badge" style="left:1150px;top:441px;background:#03a0e3;">AN</div>
<div class="b " style="left:1176px;top:440px;width:170px;height:24px;background:#a9a9a9;"></div>
<div class="b " style="left:1346px;top:440px;width:476px;height:24px;background:#d3d3d3;"></div>
<div class="b " style="left:1210px;top:440px;width:1px;height:24px;background:rgba(255,255,255,0.38);"></div>
<div class="b " style="left:1244px;top:440px;width:1px;height:24px;background:rgba(255,255,255,0.38);"></div>
<div class="b " style="left:1278px;top:440px;width:1px;height:24px;background:rgba(255,255,255,0.38);"></div>
<div class="b " style="left:1312px;top:440px;width:1px;height:24px;background:rgba(255,255,255,0.38);"></div>
<div class="b " style="left:1346px;top:440px;width:1px;height:24px;background:rgba(255,255,255,0.38);"></div>
<div class="b " style="left:1380px;top:440px;width:1px;height:24px;background:rgba(255,255,255,0.38);"></div>
<div class="b " style="left:1414px;top:440px;width:1px;height:24px;background:rgba(255,255,255,0.38);"></div>
<div class="b " style="left:1448px;top:440px;width:1px;height:24px;background:rgba(255,255,255,0.38);"></div>
<div class="b " style="left:1482px;top:440px;width:1px;height:24px;background:rgba(255,255,255,0.38);"></div>
<div class="b " style="left:1516px;top:440px;width:1px;height:24px;background:rgba(255,255,255,0.38);"></div>
<div class="b " style="left:1550px;top:440px;width:1px;height:24px;background:rgba(255,255,255,0.38);"></div>
<div class="b " style="left:1584px;top:440px;width:1px;height:24px;background:rgba(255,255,255,0.38);"></div>
<div class="b " style="left:1618px;top:440px;width:1px;height:24px;background:rgba(255,255,255,0.38);"></div>
<div class="b " style="left:1652px;top:440px;width:1px;height:24px;background:rgba(255,255,255,0.38);"></div>
<div class="b " style="left:1686px;top:440px;width:1px;height:24px;background:rgba(255,255,255,0.38);"></div>
<div class="b " style="left:1720px;top:440px;width:1px;height:24px;background:rgba(255,255,255,0.38);"></div>
<div class="b " style="left:1754px;top:440px;width:1px;height:24px;background:rgba(255,255,255,0.38);"></div>
<div class="b " style="left:1788px;top:440px;width:1px;height:24px;background:rgba(255,255,255,0.38);"></div>
<div class="b " style="left:1409.5px;top:442px;width:143.7px;height:20px;background:#03a0e3;border-radius:3px;"></div>
<span class="t " style="left:1444.30px;top:442px;font-size:13px;line-height:19px;color:#ffffff;transform:scaleX(0.9617);">07:52 - 12:05</span>
<div class="b " style="left:1578.9px;top:442px;width:139.1px;height:20px;background:#03a0e3;border-radius:3px;"></div>
<span class="t " style="left:1615.52px;top:442px;font-size:13px;line-height:19px;color:#ffffff;transform:scaleX(0.8560);">12:51 - 16:56</span>
<svg class="b" style="left:339.59999999999997px;top:484.59999999999997px;" width="11" height="8" viewBox="0 0 11 8"><path d="M0.8 0.8 L5.3 6.1 L9.8 0.8" fill="none" stroke="#4a4a4a" stroke-width="1.5" stroke-linecap="round" stroke-linejoin="round"/></svg>
<span class="t " style="left:359.30px;top:477px;font-size:14px;line-height:20px;color:#5c5c5c;transform:scaleX(1.0396);">Dienstag, 02. Feb 2021</span>
<svg class="b" style="left:870.05px;top:479.00px" width="16" height="16" viewBox="0 0 36 36" fill="#0079b8"><path d="M18,2A16,16,0,1,0,34,18,16,16,0,0,0,18,2Zm0,30A14,14,0,1,1,32,18,14,14,0,0,1,18,32Z"/><path d="M18.92,18.4V10.75a1,1,0,0,0-2,0v8.72l5.9,4a1,1,0,1,0,1.11-1.66Z"/><path d="M8,17.94A9.94,9.94,0,0,1,23.41,9.59l.85-1.36a11.55,11.55,0,1,0-8.53,21L16,27.7A10,10,0,0,1,8,17.94Z"/></svg>
<span class="t " style="left:890.00px;top:477px;font-size:14px;line-height:20px;color:#5c5c5c;transform:scaleX(1.0503);">8 Std 9 Min</span>
<svg class="b" style="left:1010.6px;top:480px;" width="15" height="14" viewBox="0 0 15 14"><path d="M0.6 3.6 L5.1 7.9 L8.4 5.1 L13.0 9.5" fill="none" stroke="#e12200" stroke-width="1.25" stroke-linecap="round" stroke-linejoin="round"/><path d="M9.2 10.6 H13.9 V5.8 Z" fill="#e12200"/></svg>
<span class="t " style="left:1029.90px;top:477px;font-size:14px;line-height:20px;color:#e12200;transform:scaleX(1.0400);">6 Min</span>
<div class="badge" style="left:1150px;top:476px;background:#03a0e3;">AN</div>
<div class="b " style="left:1176px;top:475px;width:170px;height:24px;background:#a9a9a9;"></div>
<div class="b " style="left:1346px;top:475px;width:476px;height:24px;background:#d3d3d3;"></div>
<div class="b " style="left:1210px;top:475px;width:1px;height:24px;background:rgba(255,255,255,0.38);"></div>
<div class="b " style="left:1244px;top:475px;width:1px;height:24px;background:rgba(255,255,255,0.38);"></div>
<div class="b " style="left:1278px;top:475px;width:1px;height:24px;background:rgba(255,255,255,0.38);"></div>
<div class="b " style="left:1312px;top:475px;width:1px;height:24px;background:rgba(255,255,255,0.38);"></div>
<div class="b " style="left:1346px;top:475px;width:1px;height:24px;background:rgba(255,255,255,0.38);"></div>
<div class="b " style="left:1380px;top:475px;width:1px;height:24px;background:rgba(255,255,255,0.38);"></div>
<div class="b " style="left:1414px;top:475px;width:1px;height:24px;background:rgba(255,255,255,0.38);"></div>
<div class="b " style="left:1448px;top:475px;width:1px;height:24px;background:rgba(255,255,255,0.38);"></div>
<div class="b " style="left:1482px;top:475px;width:1px;height:24px;background:rgba(255,255,255,0.38);"></div>
<div class="b " style="left:1516px;top:475px;width:1px;height:24px;background:rgba(255,255,255,0.38);"></div>
<div class="b " style="left:1550px;top:475px;width:1px;height:24px;background:rgba(255,255,255,0.38);"></div>
<div class="b " style="left:1584px;top:475px;width:1px;height:24px;background:rgba(255,255,255,0.38);"></div>
<div class="b " style="left:1618px;top:475px;width:1px;height:24px;background:rgba(255,255,255,0.38);"></div>
<div class="b " style="left:1652px;top:475px;width:1px;height:24px;background:rgba(255,255,255,0.38);"></div>
<div class="b " style="left:1686px;top:475px;width:1px;height:24px;background:rgba(255,255,255,0.38);"></div>
<div class="b " style="left:1720px;top:475px;width:1px;height:24px;background:rgba(255,255,255,0.38);"></div>
<div class="b " style="left:1754px;top:475px;width:1px;height:24px;background:rgba(255,255,255,0.38);"></div>
<div class="b " style="left:1788px;top:475px;width:1px;height:24px;background:rgba(255,255,255,0.38);"></div>
<div class="b " style="left:1415.7px;top:477px;width:131.8px;height:20px;background:#03a0e3;border-radius:3px;"></div>
<span class="t " style="left:1446.18px;top:477px;font-size:13px;line-height:19px;color:#ffffff;transform:scaleX(0.9318);">08:03 - 11:55</span>
<div class="b " style="left:1579.5px;top:477px;width:145.4px;height:20px;background:#03a0e3;border-radius:3px;"></div>
<span class="t " style="left:1617.10px;top:477px;font-size:13px;line-height:19px;color:#ffffff;transform:scaleX(0.9108);">12:52 - 17:08</span>
<span class="t " style="left:359.30px;top:512px;font-size:14px;line-height:20px;color:#5c5c5c;transform:scaleX(1.0498);">Anwesenheit 08:03 - 11:55</span>
<svg class="b" style="left:870.05px;top:514.00px" width="16" height="16" viewBox="0 0 36 36" fill="#0079b8"><path d="M18,2A16,16,0,1,0,34,18,16,16,0,0,0,18,2Zm0,30A14,14,0,1,1,32,18,14,14,0,0,1,18,32Z"/><path d="M18.92,18.4V10.75a1,1,0,0,0-2,0v8.72l5.9,4a1,1,0,1,0,1.11-1.66Z"/><path d="M8,17.94A9.94,9.94,0,0,1,23.41,9.59l.85-1.36a11.55,11.55,0,1,0-8.53,21L16,27.7A10,10,0,0,1,8,17.94Z"/></svg>
<span class="t " style="left:890.00px;top:512px;font-size:14px;line-height:20px;color:#5c5c5c;transform:scaleX(1.0790);">3 Std 53 Min gearbeitet</span>
<div class="badge" style="left:1150px;top:511px;background:#03a0e3;">AN</div>
<div class="b " style="left:1176px;top:511px;width:108px;height:24px;background:#0072a3;border-radius:3px 0 0 3px;"></div>
<div class="b " style="left:1285px;top:511px;width:94px;height:24px;background:#0072a3;border-radius:0 3px 3px 0;"></div>
<span class="t " style="left:1189.10px;top:514px;font-size:12px;line-height:18px;color:#fff;font-weight:bold;transform:scaleX(0.9627);">KORRIGIEREN</span>
<span class="t " style="left:1298.00px;top:514px;font-size:12px;line-height:18px;color:#fff;font-weight:bold;">AUFTEILEN</span>
<span class="t " style="left:359.30px;top:547px;font-size:14px;line-height:20px;color:#5c5c5c;transform:scaleX(1.0330);">Anwesenheit 12:52 - 17:08</span>
<svg class="b" style="left:870.05px;top:549.00px" width="16" height="16" viewBox="0 0 36 36" fill="#0079b8"><path d="M18,2A16,16,0,1,0,34,18,16,16,0,0,0,18,2Zm0,30A14,14,0,1,1,32,18,14,14,0,0,1,18,32Z"/><path d="M18.92,18.4V10.75a1,1,0,0,0-2,0v8.72l5.9,4a1,1,0,1,0,1.11-1.66Z"/><path d="M8,17.94A9.94,9.94,0,0,1,23.41,9.59l.85-1.36a11.55,11.55,0,1,0-8.53,21L16,27.7A10,10,0,0,1,8,17.94Z"/></svg>
<span class="t " style="left:890.00px;top:547px;font-size:14px;line-height:20px;color:#5c5c5c;transform:scaleX(1.0638);">4 Std 16 Min gearbeitet</span>
<div class="badge" style="left:1150px;top:546px;background:#03a0e3;">AN</div>
<div class="b " style="left:1176px;top:546px;width:108px;height:24px;background:#0072a3;border-radius:3px 0 0 3px;"></div>
<div class="b " style="left:1285px;top:546px;width:94px;height:24px;background:#0072a3;border-radius:0 3px 3px 0;"></div>
<span class="t " style="left:1189.10px;top:549px;font-size:12px;line-height:18px;color:#fff;font-weight:bold;transform:scaleX(0.9627);">KORRIGIEREN</span>
<span class="t " style="left:1298.00px;top:549px;font-size:12px;line-height:18px;color:#fff;font-weight:bold;">AUFTEILEN</span>
<svg class="b" style="left:341.2px;top:587.7px;" width="8" height="11" viewBox="0 0 8 11"><path d="M0.8 0.8 L6.1 5.3 L0.8 9.8" fill="none" stroke="#4a4a4a" stroke-width="1.5" stroke-linecap="round" stroke-linejoin="round"/></svg>
<span class="t " style="left:359.30px;top:582px;font-size:14px;line-height:20px;color:#5c5c5c;transform:scaleX(1.0513);">Mittwoch, 03. Feb 2021</span>
<svg class="b" style="left:870.05px;top:584.00px" width="16" height="16" viewBox="0 0 36 36" fill="#0079b8"><path d="M18,2A16,16,0,1,0,34,18,16,16,0,0,0,18,2Zm0,30A14,14,0,1,1,32,18,14,14,0,0,1,18,32Z"/><path d="M18.92,18.4V10.75a1,1,0,0,0-2,0v8.72l5.9,4a1,1,0,1,0,1.11-1.66Z"/><path d="M8,17.94A9.94,9.94,0,0,1,23.41,9.59l.85-1.36a11.55,11.55,0,1,0-8.53,21L16,27.7A10,10,0,0,1,8,17.94Z"/></svg>
<span class="t " style="left:890.00px;top:582px;font-size:14px;line-height:20px;color:#5c5c5c;transform:scaleX(1.0266);">8 Std 10 Min</span>
<svg class="b" style="left:1010.6px;top:585px;" width="15" height="14" viewBox="0 0 15 14"><path d="M0.6 3.6 L5.1 7.9 L8.4 5.1 L13.0 9.5" fill="none" stroke="#e12200" stroke-width="1.25" stroke-linecap="round" stroke-linejoin="round"/><path d="M9.2 10.6 H13.9 V5.8 Z" fill="#e12200"/></svg>
<span class="t " style="left:1029.90px;top:582px;font-size:14px;line-height:20px;color:#e12200;transform:scaleX(1.0342);">5 Min</span>
<div class="badge" style="left:1150px;top:581px;background:#03a0e3;">AN</div>
<div class="b " style="left:1176px;top:580px;width:170px;height:24px;background:#a9a9a9;"></div>
<div class="b " style="left:1346px;top:580px;width:476px;height:24px;background:#d3d3d3;"></div>
<div class="b " style="left:1210px;top:580px;width:1px;height:24px;background:rgba(255,255,255,0.38);"></div>
<div class="b " style="left:1244px;top:580px;width:1px;height:24px;background:rgba(255,255,255,0.38);"></div>
<div class="b " style="left:1278px;top:580px;width:1px;height:24px;background:rgba(255,255,255,0.38);"></div>
<div class="b " style="left:1312px;top:580px;width:1px;height:24px;background:rgba(255,255,255,0.38);"></div>
<div class="b " style="left:1346px;top:580px;width:1px;height:24px;background:rgba(255,255,255,0.38);"></div>
<div class="b " style="left:1380px;top:580px;width:1px;height:24px;background:rgba(255,255,255,0.38);"></div>
<div class="b " style="left:1414px;top:580px;width:1px;height:24px;background:rgba(255,255,255,0.38);"></div>
<div class="b " style="left:1448px;top:580px;width:1px;height:24px;background:rgba(255,255,255,0.38);"></div>
<div class="b " style="left:1482px;top:580px;width:1px;height:24px;background:rgba(255,255,255,0.38);"></div>
<div class="b " style="left:1516px;top:580px;width:1px;height:24px;background:rgba(255,255,255,0.38);"></div>
<div class="b " style="left:1550px;top:580px;width:1px;height:24px;background:rgba(255,255,255,0.38);"></div>
<div class="b " style="left:1584px;top:580px;width:1px;height:24px;background:rgba(255,255,255,0.38);"></div>
<div class="b " style="left:1618px;top:580px;width:1px;height:24px;background:rgba(255,255,255,0.38);"></div>
<div class="b " style="left:1652px;top:580px;width:1px;height:24px;background:rgba(255,255,255,0.38);"></div>
<div class="b " style="left:1686px;top:580px;width:1px;height:24px;background:rgba(255,255,255,0.38);"></div>
<div class="b " style="left:1720px;top:580px;width:1px;height:24px;background:rgba(255,255,255,0.38);"></div>
<div class="b " style="left:1754px;top:580px;width:1px;height:24px;background:rgba(255,255,255,0.38);"></div>
<div class="b " style="left:1788px;top:580px;width:1px;height:24px;background:rgba(255,255,255,0.38);"></div>
<div class="b " style="left:1428.2px;top:582px;width:140.3px;height:20px;background:#03a0e3;border-radius:3px;"></div>
<span class="t " style="left:1461.90px;top:582px;font-size:13px;line-height:19px;color:#ffffff;transform:scaleX(0.9460);">08:25 - 12:32</span>
<div class="b " style="left:1591.4px;top:582px;width:137.4px;height:20px;background:#03a0e3;border-radius:3px;"></div>
<span class="t " style="left:1628.43px;top:582px;font-size:13px;line-height:19px;color:#ffffff;transform:scaleX(0.8221);">13:13 - 17:15</span>
<svg class="b" style="left:341.2px;top:622.7px;" width="8" height="11" viewBox="0 0 8 11"><path d="M0.8 0.8 L6.1 5.3 L0.8 9.8" fill="none" stroke="#4a4a4a" stroke-width="1.5" stroke-linecap="round" stroke-linejoin="round"/></svg>
<span class="t " style="left:359.30px;top:617px;font-size:14px;line-height:20px;color:#5c5c5c;transform:scaleX(1.0505);">Donnerstag, 04. Feb 2021</span>
<svg class="b" style="left:870.05px;top:619.00px" width="16" height="16" viewBox="0 0 36 36" fill="#0079b8"><path d="M18,2A16,16,0,1,0,34,18,16,16,0,0,0,18,2Zm0,30A14,14,0,1,1,32,18,14,14,0,0,1,18,32Z"/><path d="M18.92,18.4V10.75a1,1,0,0,0-2,0v8.72l5.9,4a1,1,0,1,0,1.11-1.66Z"/><path d="M8,17.94A9.94,9.94,0,0,1,23.41,9.59l.85-1.36a11.55,11.55,0,1,0-8.53,21L16,27.7A10,10,0,0,1,8,17.94Z"/></svg>
<span class="t " style="left:890.00px;top:617px;font-size:14px;line-height:20px;color:#5c5c5c;transform:scaleX(1.0113);">8 Std 15 Min</span>
<svg class="b" style="left:1010.6px;top:620px;" width="15" height="14" viewBox="0 0 15 14"><path d="M0.6 10.3 L5.1 6.1 L8.4 8.9 L13.0 4.5" fill="none" stroke="#3c8500" stroke-width="1.25" stroke-linecap="round" stroke-linejoin="round"/><path d="M9.2 3.4 H13.9 V8.2 Z" fill="#3c8500"/></svg>
<span class="t " style="left:1029.90px;top:617px;font-size:14px;line-height:20px;color:#3c8500;transform:scaleX(1.0890);">0 Std</span>
<div class="badge" style="left:1150px;top:616px;background:#03a0e3;">AN</div>
<div class="b " style="left:1176px;top:615px;width:170px;height:24px;background:#a9a9a9;"></div>
<div class="b " style="left:1346px;top:615px;width:476px;height:24px;background:#d3d3d3;"></div>
<div class="b " style="left:1210px;top:615px;width:1px;height:24px;background:rgba(255,255,255,0.38);"></div>
<div class="b " style="left:1244px;top:615px;width:1px;height:24px;background:rgba(255,255,255,0.38);"></div>
<div class="b " style="left:1278px;top:615px;width:1px;height:24px;background:rgba(255,255,255,0.38);"></div>
<div class="b " style="left:1312px;top:615px;width:1px;height:24px;background:rgba(255,255,255,0.38);"></div>
<div class="b " style="left:1346px;top:615px;width:1px;height:24px;background:rgba(255,255,255,0.38);"></div>
<div class="b " style="left:1380px;top:615px;width:1px;height:24px;background:rgba(255,255,255,0.38);"></div>
<div class="b " style="left:1414px;top:615px;width:1px;height:24px;background:rgba(255,255,255,0.38);"></div>
<div class="b " style="left:1448px;top:615px;width:1px;height:24px;background:rgba(255,255,255,0.38);"></div>
<div class="b " style="left:1482px;top:615px;width:1px;height:24px;background:rgba(255,255,255,0.38);"></div>
<div class="b " style="left:1516px;top:615px;width:1px;height:24px;background:rgba(255,255,255,0.38);"></div>
<div class="b " style="left:1550px;top:615px;width:1px;height:24px;background:rgba(255,255,255,0.38);"></div>
<div class="b " style="left:1584px;top:615px;width:1px;height:24px;background:rgba(255,255,255,0.38);"></div>
<div class="b " style="left:1618px;top:615px;width:1px;height:24px;background:rgba(255,255,255,0.38);"></div>
<div class="b " style="left:1652px;top:615px;width:1px;height:24px;background:rgba(255,255,255,0.38);"></div>
<div class="b " style="left:1686px;top:615px;width:1px;height:24px;background:rgba(255,255,255,0.38);"></div>
<div class="b " style="left:1720px;top:615px;width:1px;height:24px;background:rgba(255,255,255,0.38);"></div>
<div class="b " style="left:1754px;top:615px;width:1px;height:24px;background:rgba(255,255,255,0.38);"></div>
<div class="b " style="left:1788px;top:615px;width:1px;height:24px;background:rgba(255,255,255,0.38);"></div>
<div class="b " style="left:1430.4px;top:617px;width:143.1px;height:20px;background:#03a0e3;border-radius:3px;"></div>
<span class="t " style="left:1466.58px;top:617px;font-size:13px;line-height:19px;color:#ffffff;transform:scaleX(0.9199);">08:29 - 12:41</span>
<div class="b " style="left:1597.6px;top:617px;width:137.4px;height:20px;background:#03a0e3;border-radius:3px;"></div>
<span class="t " style="left:1631.42px;top:617px;font-size:13px;line-height:19px;color:#ffffff;transform:scaleX(0.9069);">13:24 - 17:26</span>
<svg class="b" style="left:341.2px;top:657.7px;" width="8" height="11" viewBox="0 0 8 11"><path d="M0.8 0.8 L6.1 5.3 L0.8 9.8" fill="none" stroke="#4a4a4a" stroke-width="1.5" stroke-linecap="round" stroke-linejoin="round"/></svg>
<span class="t " style="left:359.30px;top:652px;font-size:14px;line-height:20px;color:#5c5c5c;transform:scaleX(1.0423);">Freitag, 05. Feb 2021</span>
<svg class="b" style="left:870.05px;top:654.00px" width="16" height="16" viewBox="0 0 36 36" fill="#0079b8"><path d="M18,2A16,16,0,1,0,34,18,16,16,0,0,0,18,2Zm0,30A14,14,0,1,1,32,18,14,14,0,0,1,18,32Z"/><path d="M18.92,18.4V10.75a1,1,0,0,0-2,0v8.72l5.9,4a1,1,0,1,0,1.11-1.66Z"/><path d="M8,17.94A9.94,9.94,0,0,1,23.41,9.59l.85-1.36a11.55,11.55,0,1,0-8.53,21L16,27.7A10,10,0,0,1,8,17.94Z"/></svg>
<span class="t " style="left:890.00px;top:652px;font-size:14px;line-height:20px;color:#5c5c5c;transform:scaleX(1.0609);">6 Std 56 Min</span>
<svg class="b" style="left:1010.6px;top:655px;" width="15" height="14" viewBox="0 0 15 14"><path d="M0.6 3.6 L5.1 7.9 L8.4 5.1 L13.0 9.5" fill="none" stroke="#e12200" stroke-width="1.25" stroke-linecap="round" stroke-linejoin="round"/><path d="M9.2 10.6 H13.9 V5.8 Z" fill="#e12200"/></svg>
<span class="t " style="left:1029.90px;top:652px;font-size:14px;line-height:20px;color:#e12200;transform:scaleX(1.0400);">4 Min</span>
<div class="badge" style="left:1150px;top:651px;background:#03a0e3;">AN</div>
<div class="b " style="left:1176px;top:650px;width:170px;height:24px;background:#a9a9a9;"></div>
<div class="b " style="left:1346px;top:650px;width:476px;height:24px;background:#d3d3d3;"></div>
<div class="b " style="left:1210px;top:650px;width:1px;height:24px;background:rgba(255,255,255,0.38);"></div>
<div class="b " style="left:1244px;top:650px;width:1px;height:24px;background:rgba(255,255,255,0.38);"></div>
<div class="b " style="left:1278px;top:650px;width:1px;height:24px;background:rgba(255,255,255,0.38);"></div>
<div class="b " style="left:1312px;top:650px;width:1px;height:24px;background:rgba(255,255,255,0.38);"></div>
<div class="b " style="left:1346px;top:650px;width:1px;height:24px;background:rgba(255,255,255,0.38);"></div>
<div class="b " style="left:1380px;top:650px;width:1px;height:24px;background:rgba(255,255,255,0.38);"></div>
<div class="b " style="left:1414px;top:650px;width:1px;height:24px;background:rgba(255,255,255,0.38);"></div>
<div class="b " style="left:1448px;top:650px;width:1px;height:24px;background:rgba(255,255,255,0.38);"></div>
<div class="b " style="left:1482px;top:650px;width:1px;height:24px;background:rgba(255,255,255,0.38);"></div>
<div class="b " style="left:1516px;top:650px;width:1px;height:24px;background:rgba(255,255,255,0.38);"></div>
<div class="b " style="left:1550px;top:650px;width:1px;height:24px;background:rgba(255,255,255,0.38);"></div>
<div class="b " style="left:1584px;top:650px;width:1px;height:24px;background:rgba(255,255,255,0.38);"></div>
<div class="b " style="left:1618px;top:650px;width:1px;height:24px;background:rgba(255,255,255,0.38);"></div>
<div class="b " style="left:1652px;top:650px;width:1px;height:24px;background:rgba(255,255,255,0.38);"></div>
<div class="b " style="left:1686px;top:650px;width:1px;height:24px;background:rgba(255,255,255,0.38);"></div>
<div class="b " style="left:1720px;top:650px;width:1px;height:24px;background:rgba(255,255,255,0.38);"></div>
<div class="b " style="left:1754px;top:650px;width:1px;height:24px;background:rgba(255,255,255,0.38);"></div>
<div class="b " style="left:1788px;top:650px;width:1px;height:24px;background:rgba(255,255,255,0.38);"></div>
<div class="b " style="left:1426.5px;top:652px;width:122.1px;height:20px;background:#03a0e3;border-radius:3px;"></div>
<span class="t " style="left:1452.38px;top:652px;font-size:13px;line-height:19px;color:#ffffff;transform:scaleX(0.9252);">08:22 - 11:57</span>
<div class="b " style="left:1566.4px;top:652px;width:113.1px;height:20px;background:#03a0e3;border-radius:3px;"></div>
<span class="t " style="left:1588.07px;top:652px;font-size:13px;line-height:19px;color:#ffffff;transform:scaleX(0.9069);">12:29 - 15:48</span>
<svg class="b" style="left:321.3px;top:692.7px;" width="8" height="11" viewBox="0 0 8 11"><path d="M0.8 0.8 L6.1 5.3 L0.8 9.8" fill="none" stroke="#4a4a4a" stroke-width="1.5" stroke-linecap="round" stroke-linejoin="round"/></svg>
<span class="t " style="left:339.40px;top:687px;font-size:14px;line-height:20px;color:#5c5c5c;transform:scaleX(1.0298);">KW.06.21</span>
<div class="b " style="left:420px;top:690px;width:1px;height:13px;background:#7a7a7a;"></div>
<span class="t " style="left:433.20px;top:687px;font-size:14px;line-height:20px;color:#5c5c5c;transform:scaleX(1.0143);">08.02.2021 bis 14.02.2021</span>
<svg class="b" style="left:870.05px;top:689.00px" width="16" height="16" viewBox="0 0 36 36" fill="#0079b8"><path d="M18,2A16,16,0,1,0,34,18,16,16,0,0,0,18,2Zm0,30A14,14,0,1,1,32,18,14,14,0,0,1,18,32Z"/><path d="M18.92,18.4V10.75a1,1,0,0,0-2,0v8.72l5.9,4a1,1,0,1,0,1.11-1.66Z"/><path d="M8,17.94A9.94,9.94,0,0,1,23.41,9.59l.85-1.36a11.55,11.55,0,1,0-8.53,21L16,27.7A10,10,0,0,1,8,17.94Z"/></svg>
<span class="t " style="left:890.00px;top:687px;font-size:14px;line-height:20px;color:#5c5c5c;transform:scaleX(1.0698);">40 Std 7 Min</span>
<svg class="b" style="left:1010.6px;top:690px;" width="15" height="14" viewBox="0 0 15 14"><path d="M0.6 10.3 L5.1 6.1 L8.4 8.9 L13.0 4.5" fill="none" stroke="#3c8500" stroke-width="1.25" stroke-linecap="round" stroke-linejoin="round"/><path d="M9.2 3.4 H13.9 V8.2 Z" fill="#3c8500"/></svg>
<span class="t " style="left:1029.90px;top:687px;font-size:14px;line-height:20px;color:#3c8500;transform:scaleX(1.0283);">7 Min</span>
<div class="badge" style="left:1150px;top:686px;background:#03a0e3;">AN</div>
<div class="b " style="left:1176px;top:686px;width:646px;height:22px;background:#e8e8e8;border-radius:3px;"></div>
<div class="b " style="left:1176px;top:685px;width:518.3px;height:24px;background:#03a0e3;border-radius:3px 0 0 3px;"></div>
<div class="b " style="left:1692px;top:684px;width:2px;height:26px;background:#ffffff;"></div>
<span class="t " style="left:1836.70px;top:687px;font-size:14px;line-height:20px;color:#5c5c5c;transform:scaleX(0.9682);">100%</span>
<svg class="b" style="left:321.3px;top:727.7px;" width="8" height="11" viewBox="0 0 8 11"><path d="M0.8 0.8 L6.1 5.3 L0.8 9.8" fill="none" stroke="#4a4a4a" stroke-width="1.5" stroke-linecap="round" stroke-linejoin="round"/></svg>
<span class="t " style="left:339.40px;top:722px;font-size:14px;line-height:20px;color:#5c5c5c;transform:scaleX(1.0051);">KW.07.21</span>
<div class="b " style="left:420px;top:725px;width:1px;height:13px;background:#7a7a7a;"></div>
<span class="t " style="left:433.20px;top:722px;font-size:14px;line-height:20px;color:#5c5c5c;transform:scaleX(0.9829);">15.02.2021 bis 21.02.2021</span>
<svg class="b" style="left:628.7px;top:719.6px;" width="21" height="21" viewBox="0 0 21 21"><g fill="none" stroke="#e5391d" stroke-width="1.3" stroke-linecap="round" stroke-linejoin="round"><path d="M2.6 3.5 H1.9 Q0.8 3.5 0.8 4.6 V18.5 Q0.8 19.6 1.9 19.6 H18.1 Q19.2 19.6 19.2 18.5 V4.6 Q19.2 3.5 18.1 3.5 H17.4"/><path d="M7.5 3.5 H12.5"/></g><g stroke="#e5391d" stroke-width="1.5" stroke-linecap="round" opacity="0.75"><path d="M5.0 0.7 V4.6 M14.8 0.7 V4.6"/></g><g fill="none" stroke="#e5391d" stroke-width="1.0" opacity="0.9"><circle cx="10.2" cy="11.5" r="6.1"/><circle cx="10.2" cy="11.5" r="4.3" stroke-dasharray="9 18" transform="rotate(150 10.2 11.5)"/><path d="M10.4 8 V11.8"/></g><path d="M3.8 6.2 L15.6 17.2" stroke="#e5391d" stroke-width="1.4" stroke-linecap="round"/></svg>
<svg class="b" style="left:658.8px;top:719.6px;" width="21" height="21" viewBox="0 0 21 21"><g fill="none" stroke="#3c8500" stroke-width="1.3" stroke-linecap="round" stroke-linejoin="round"><path d="M2.6 3.5 H1.9 Q0.8 3.5 0.8 4.6 V18.5 Q0.8 19.6 1.9 19.6 H18.1 Q19.2 19.6 19.2 18.5 V4.6 Q19.2 3.5 18.1 3.5 H17.4"/><path d="M7.5 3.5 H12.5"/></g><g stroke="#3c8500" stroke-width="1.5" stroke-linecap="round" opacity="0.75"><path d="M5.0 0.7 V4.6 M14.8 0.7 V4.6"/></g><path d="M2.6 15.6 L7.6 11.0 L11.0 13.6 L15.6 9.0" fill="none" stroke="#3c8500" stroke-width="1.3" stroke-linecap="round" stroke-linejoin="round"/><path d="M12.8 8.0 H17.0 V12.2 Z" fill="#3c8500" opacity="0.9"/></svg>
<svg class="b" style="left:837.1px;top:722.1px;" width="22" height="22" viewBox="0 0 22 22"><g fill="none" stroke="#c47d00" stroke-width="1.3" stroke-linejoin="round" stroke-linecap="round"><path d="M1.1 20.0 L2.2 13.6 L15.7 0.7 L20.5 5.5 L16.6 9.3 M11.2 14.6 L7.2 18.7 L1.1 20.0"/><path d="M12.7 4.1 L17.2 8.6"/></g><circle cx="15.7" cy="15.8" r="4.7" fill="#c47d00"/><path d="M12.6 15.8 H18.8 M15.7 12.7 V18.9" stroke="#fff" stroke-width="1.5"/></svg>
<svg class="b" style="left:870.05px;top:724.00px" width="16" height="16" viewBox="0 0 36 36" fill="#0079b8"><path d="M18,2A16,16,0,1,0,34,18,16,16,0,0,0,18,2Zm0,30A14,14,0,1,1,32,18,14,14,0,0,1,18,32Z"/><path d="M18.92,18.4V10.75a1,1,0,0,0-2,0v8.72l5.9,4a1,1,0,1,0,1.11-1.66Z"/><path d="M8,17.94A9.94,9.94,0,0,1,23.41,9.59l.85-1.36a11.55,11.55,0,1,0-8.53,21L16,27.7A10,10,0,0,1,8,17.94Z"/></svg>
<span class="t " style="left:890.00px;top:722px;font-size:14px;line-height:20px;color:#5c5c5c;transform:scaleX(1.0520);">34 Std 8 Min</span>
<svg class="b" style="left:1010.6px;top:725px;" width="15" height="14" viewBox="0 0 15 14"><path d="M0.6 3.6 L5.1 7.9 L8.4 5.1 L13.0 9.5" fill="none" stroke="#e12200" stroke-width="1.25" stroke-linecap="round" stroke-linejoin="round"/><path d="M9.2 10.6 H13.9 V5.8 Z" fill="#e12200"/></svg>
<span class="t " style="left:1029.90px;top:722px;font-size:14px;line-height:20px;color:#e12200;transform:scaleX(1.0482);">5 Std 52 Min</span>
<div class="badge" style="left:1150px;top:721px;background:linear-gradient(90deg,#737373 0,#737373 11px,#03a0e3 11px,#03a0e3 100%);">AB</div>
<div class="b " style="left:1176px;top:721px;width:646px;height:22px;background:#e8e8e8;border-radius:3px;"></div>
<div class="b " style="left:1176px;top:720px;width:441.0px;height:24px;background:#c92100;border-radius:3px 0 0 3px;"></div>
<div class="b " style="left:1692px;top:719px;width:2px;height:26px;background:#ffffff;"></div>
<span class="t " style="left:1843.80px;top:722px;font-size:14px;line-height:20px;color:#5c5c5c;transform:scaleX(0.9857);">85%</span>
<svg class="b" style="left:321.3px;top:762.7px;" width="8" height="11" viewBox="0 0 8 11"><path d="M0.8 0.8 L6.1 5.3 L0.8 9.8" fill="none" stroke="#4a4a4a" stroke-width="1.5" stroke-linecap="round" stroke-linejoin="round"/></svg>
<span class="t " style="left:339.40px;top:757px;font-size:14px;line-height:20px;color:#5c5c5c;transform:scaleX(1.0133);">KW.08.21</span>
<div class="b " style="left:420px;top:760px;width:1px;height:13px;background:#7a7a7a;"></div>
<span class="t " style="left:433.20px;top:757px;font-size:14px;line-height:20px;color:#5c5c5c;transform:scaleX(1.0227);">22.02.2021 bis 28.02.2021</span>
<svg class="b" style="left:870.05px;top:759.00px" width="16" height="16" viewBox="0 0 36 36" fill="#0079b8"><path d="M18,2A16,16,0,1,0,34,18,16,16,0,0,0,18,2Zm0,30A14,14,0,1,1,32,18,14,14,0,0,1,18,32Z"/><path d="M18.92,18.4V10.75a1,1,0,0,0-2,0v8.72l5.9,4a1,1,0,1,0,1.11-1.66Z"/><path d="M8,17.94A9.94,9.94,0,0,1,23.41,9.59l.85-1.36a11.55,11.55,0,1,0-8.53,21L16,27.7A10,10,0,0,1,8,17.94Z"/></svg>
<span class="t " style="left:890.00px;top:757px;font-size:14px;line-height:20px;color:#5c5c5c;transform:scaleX(1.0113);">8 Std 15 Min</span>
<svg class="b" style="left:1010.6px;top:760px;" width="15" height="14" viewBox="0 0 15 14"><path d="M0.6 3.6 L5.1 7.9 L8.4 5.1 L13.0 9.5" fill="none" stroke="#e12200" stroke-width="1.25" stroke-linecap="round" stroke-linejoin="round"/><path d="M9.2 10.6 H13.9 V5.8 Z" fill="#e12200"/></svg>
<span class="t " style="left:1029.90px;top:757px;font-size:14px;line-height:20px;color:#e12200;transform:scaleX(1.0088);">8 Std 15 Min</span>
<div class="badge" style="left:1150px;top:756px;background:#343dac;">BS</div>
<div class="b " style="left:1176px;top:756px;width:646px;height:22px;background:#e8e8e8;border-radius:3px;"></div>
<div class="b " style="left:1176px;top:755px;width:258.4px;height:24px;background:#fece02;border-radius:3px 0 0 3px;"></div>
<div class="b " style="left:1692px;top:754px;width:2px;height:26px;background:#ffffff;"></div>
<span class="t " style="left:1842.90px;top:757px;font-size:14px;line-height:20px;color:#5c5c5c;transform:scaleX(1.0179);">50%</span>
<div class="b " style="left:310px;top:810px;width:220px;height:36px;background:#0072a3;border-radius:3px;"></div>
<span class="t " style="left:323.40px;top:819px;font-size:13px;line-height:19px;color:#fff;font-weight:bold;transform:scaleX(1.0698);">NEUER BUCHUNGSANTRAG</span>
</body></html>
